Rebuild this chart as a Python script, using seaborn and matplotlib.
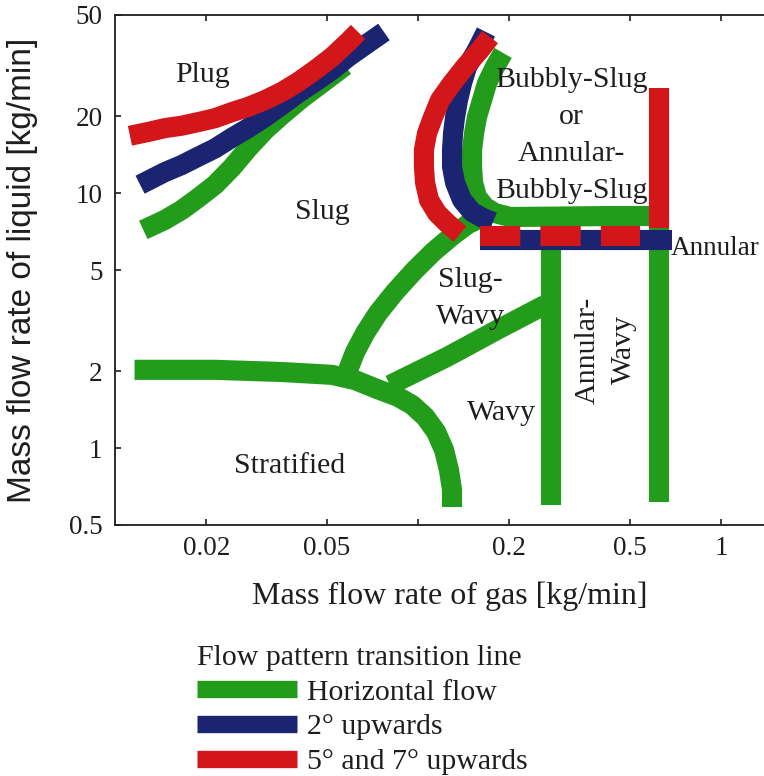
import matplotlib
matplotlib.use("Agg")
import matplotlib.pyplot as plt
from matplotlib.lines import Line2D
from matplotlib.ticker import NullLocator
import seaborn as sns

# ---- Flow pattern transition lines (gas vs liquid mass flow rate, kg/min) ----
# Horizontal flow
plug_h_gas = [0.0124, 0.0146, 0.0166, 0.0188, 0.0214, 0.0243, 0.0275, 0.0313,
              0.0356, 0.0414, 0.0482, 0.0574]
plug_h_liq = [7.18, 7.86, 8.60, 9.58, 10.8, 12.6, 15.0, 17.7, 20.3, 23.6, 27.0, 31.6]
bubbly_h_gas = [0.1908, 0.1795, 0.1689, 0.1627, 0.1565, 0.1531, 0.1508, 0.1508,
                0.1519, 0.1565, 0.1664, 0.1795, 0.2012, 0.2941, 0.4302, 0.615]
bubbly_h_liq = [35.5, 31.3, 27.0, 23.2, 19.9, 17.2, 14.8, 12.7, 11.0, 9.67, 8.83,
                8.36, 8.07, 8.10, 8.14, 8.14]
slug_wavy_h_gas = [0.0588, 0.0620, 0.0669, 0.0738, 0.0839, 0.0970, 0.1121, 0.1295,
                   0.1462, 0.1664]
slug_wavy_h_liq = [2.03, 2.385, 2.83, 3.39, 4.10, 4.96, 5.88, 6.80, 7.57, 8.14]
strat_h_gas = [0.0116, 0.0214, 0.0356, 0.0520, 0.0620, 0.0721, 0.0859, 0.0955,
               0.1055, 0.1147, 0.1219, 0.1265, 0.1295, 0.1295]
strat_h_liq = [2.03, 2.03, 1.99, 1.94, 1.85, 1.72, 1.59, 1.48, 1.33, 1.16, 0.984,
               0.822, 0.686, 0.588]
wavy_h_gas = [0.0808, 0.1247, 0.1823, 0.2625]
wavy_h_liq = [1.77, 2.28, 2.91, 3.65]
annular_wavy_h_gas = [0.2748, 0.2748]
annular_wavy_h_liq = [0.599, 6.6]
annular_h_gas = [0.624, 0.624]
annular_h_liq = [0.616, 8.07]

# 2 degrees upwards
plug_2_gas = [0.0121, 0.0146, 0.0166, 0.0188, 0.0214, 0.0243, 0.0275, 0.0313,
              0.0356, 0.0402, 0.0457, 0.0520, 0.0588, 0.0669, 0.0772]
plug_2_liq = [10.8, 12.1, 12.9, 13.9, 15.0, 16.5, 18.0, 19.9, 22.2, 24.7, 27.3,
              30.4, 34.2, 38.1, 42.9]
bubbly_2_gas = [0.1676, 0.1565, 0.1451, 0.1397, 0.1355, 0.1325, 0.1305, 0.1295,
                0.1295, 0.1325, 0.1397, 0.1508, 0.1638, 0.1768]
bubbly_2_liq = [42.9, 36.5, 31.3, 27.0, 23.2, 19.9, 17.2, 14.8, 12.7, 11.0, 9.41,
                8.44, 8.00, 7.71]
annular_2_gas = [0.1602, 0.6894]
annular_2_liq = [6.54, 6.54]

# 5 and 7 degrees upwards
plug_57_gas = [0.0112, 0.0129, 0.0146, 0.0166, 0.0188, 0.0214, 0.0243, 0.0275,
               0.0313, 0.0356, 0.0402, 0.0457, 0.0520, 0.0588, 0.0634]
plug_57_liq = [16.8, 17.4, 18.0, 18.4, 19.0, 19.7, 20.8, 21.8, 23.2, 25.0, 27.3,
               30.4, 34.2, 39.2, 42.9]
bubbly_57_gas = [0.1728, 0.1602, 0.1429, 0.1295, 0.1182, 0.1121, 0.1071, 0.1046,
                 0.1046, 0.1055, 0.1087, 0.1155, 0.1247, 0.1325, 0.1376]
bubbly_57_liq = [41.0, 36.5, 31.3, 27.0, 23.2, 19.9, 17.2, 14.8, 12.7, 11.0, 9.41,
                 8.36, 7.64, 7.18, 6.92]
annular_57_gas = [0.1602, 0.5404]
annular_57_liq = [6.82, 6.82]
annular_wall_57_gas = [0.6227, 0.6227]
annular_wall_57_liq = [25.9, 7.3]

x_ticks = [0.02, 0.05, 0.1, 0.2, 0.5, 1]
x_tick_labels = ["0.02", "0.05", "", "0.2", "0.5", "1"]
y_ticks = [0.5, 1, 2, 5, 10, 20, 50]
y_tick_labels = ["0.5", "1", "2", "5", "10", "20", "50"]

series_labels = ["Horizontal flow", "2\u00b0 upwards", "5\u00b0 and 7\u00b0 upwards"]

# ---- style ----
sns.set_style("ticks")
plt.rcParams["font.family"] = ["Liberation Serif", "DejaVu Serif"]
plt.rcParams["axes.linewidth"] = 1.3

GREEN = "#239c1b"
BLUE = "#1b2470"
RED = "#d3161a"
INK = "#1e1e1e"
LW = 14.5

fig = plt.figure(figsize=(7.64, 7.76), dpi=100)
ax = fig.add_axes([115 / 764, (776 - 525) / 776, 1 - 115 / 764, 510 / 776])
ax.set_xscale("log")
ax.set_yscale("log")


def draw(gas, liq, color, **kw):
    sns.lineplot(x=gas, y=liq, ax=ax, color=color, lw=LW, sort=False,
                 estimator=None, solid_capstyle="butt",
                 solid_joinstyle="round", **kw)


for g, l in [(plug_h_gas, plug_h_liq), (bubbly_h_gas, bubbly_h_liq),
             (slug_wavy_h_gas, slug_wavy_h_liq), (strat_h_gas, strat_h_liq),
             (wavy_h_gas, wavy_h_liq), (annular_wavy_h_gas, annular_wavy_h_liq),
             (annular_h_gas, annular_h_liq)]:
    draw(g, l, GREEN)

for g, l in [(plug_2_gas, plug_2_liq), (bubbly_2_gas, bubbly_2_liq),
             (annular_2_gas, annular_2_liq)]:
    draw(g, l, BLUE)

for g, l in [(plug_57_gas, plug_57_liq), (bubbly_57_gas, bubbly_57_liq),
             (annular_wall_57_gas, annular_wall_57_liq)]:
    draw(g, l, RED)
draw(annular_57_gas, annular_57_liq, RED, linestyle=(0, (2.0, 1.0)))

# ---- regime labels ----
txt = dict(fontsize=21.5, color=INK, ha="center", va="center")
ax.text(0.0195, 29.1, "Plug", **txt)
ax.text(0.0482, 8.44, "Slug", **txt)
ax.text(0.320, 16.9, "Bubbly-Slug\nor\nAnnular-\nBubbly-Slug", linespacing=1.55, **txt)
ax.text(0.682, 6.05, "Annular", fontsize=19.5, color=INK, ha="left", va="center")
ax.text(0.1485, 3.88, "Slug-\nWavy", linespacing=1.55, **txt)
ax.text(0.1893, 1.375, "Wavy", **txt)
ax.text(0.4174, 2.43, "Annular-\nWavy", rotation=90, linespacing=1.5, **txt)
ax.text(0.0378, 0.852, "Stratified", **txt)

# ---- axes ----
ax.set_xlim(0.01, 1.386)
ax.set_ylim(0.5, 50)
ax.set_xticks(x_ticks)
ax.set_xticklabels(x_tick_labels)
ax.set_yticks(y_ticks)
ax.set_yticklabels(y_tick_labels)
ax.xaxis.set_minor_locator(NullLocator())
ax.yaxis.set_minor_locator(NullLocator())
ax.tick_params(direction="in", length=4, width=1.2, top=True, right=False,
               labelsize=19.5, colors=INK)
ax.tick_params(axis="x", pad=8)
ax.tick_params(axis="y", pad=9)
ax.spines["right"].set_visible(False)
for s in ("left", "top", "bottom"):
    ax.spines[s].set_color(INK)

ax.set_xlabel("Mass flow rate of gas [kg/min]", fontsize=23, color=INK, va="center")
ax.xaxis.set_label_coords((450 - 115) / 649, (525 - 596) / 510)
ax.set_ylabel("Mass flow rate of liquid [kg/min]", fontsize=24, color=INK,
              va="center", family=["Liberation Sans", "DejaVu Sans"])
ax.yaxis.set_label_coords((22 - 115) / 649, 0.5)

# ---- legend ----
handles = [Line2D([0], [0], color=c, lw=12.5, solid_capstyle="butt")
           for c in (GREEN, BLUE, RED)]
leg = fig.legend(handles, series_labels, title="Flow pattern transition line",
                 loc="upper left", bbox_to_anchor=(197 / 764, 1 - 645 / 776),
                 frameon=False, borderpad=0, borderaxespad=0, fontsize=21.5,
                 title_fontsize=21.5, handlelength=3.35, handletextpad=0.33,
                 labelspacing=0.26, alignment="left")
for t in leg.get_texts():
    t.set_color(INK)
leg.get_title().set_color(INK)

fig.savefig("out.png", dpi=100)
